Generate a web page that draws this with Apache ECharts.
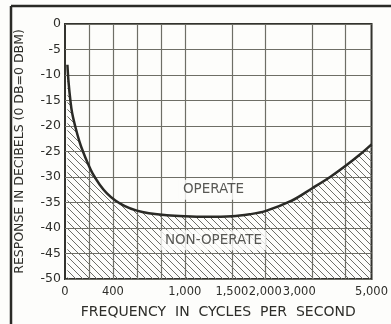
<!DOCTYPE html>
<html>
<head>
<meta charset="utf-8">
<script src="https://cdn.jsdelivr.net/npm/echarts@6/dist/echarts.min.js"></script>
<style>
html,body{margin:0;padding:0;background:#fdfdfb;}
#c{width:391px;height:324px;}
</style>
</head>
<body>
<div id="c"></div>
<script>
// ---- data ----
const FREQ = [20, 30, 45, 60, 90, 120, 150, 190, 230, 290, 350, 420, 500, 600, 700, 850, 1000, 1200, 1500, 1750, 2000, 2500, 3000, 3500, 4000, 4500, 5000];
const DB   = [-8, -11.5, -15, -17.5, -20.5, -23, -25, -27.3, -29.3, -31.5, -33.2, -34.6, -35.7, -36.6, -37.1, -37.5, -37.7, -37.8, -37.7, -37.3, -36.7, -34.7, -32.2, -30, -27.8, -25.7, -23.6];
const GRID_FREQS = [0, 200, 400, 600, 800, 1000, 1500, 2000, 3000, 4000, 5000];
const TICK_FREQS = [0, 400, 1000, 1500, 2000, 3000, 5000];
const TICK_TEXT  = ['0', '400', '1,000', '1,500', '2,000', '3,000', '5,000'];
const Y_MIN = -50, Y_MAX = 0, Y_STEP = 5;
const REGION_TEXT = ['OPERATE', 'NON-OPERATE'];
const REGION_POS = [[1280, -32.5], [1280, -42.4]];

// frequency scale of the original paper: linear to 1,000, logarithmic above
function U(f) { return f <= 1000 ? f * 0.122 : 122 + 272 * Math.log10(f / 1000); }

const FONT = 'DejaVu Sans';
const INK = '#2e2e2a';

// hatch pattern
const pc = document.createElement('canvas');
pc.width = 7; pc.height = 7;
const ctx = pc.getContext('2d');
ctx.strokeStyle = '#6e6e68';
ctx.lineWidth = 1;
ctx.beginPath();
ctx.moveTo(-1, -1); ctx.lineTo(8, 8);
ctx.moveTo(-1, 6); ctx.lineTo(1, 8);
ctx.moveTo(6, -1); ctx.lineTo(8, 1);
ctx.stroke();

const chart = echarts.init(document.getElementById('c'), null, {renderer: 'canvas'});
chart.setOption({
  backgroundColor: '#fdfdfb',
  animation: false,
  grid: {left: 65, right: 13, top: 24, bottom: 45, show: true, borderColor: '#33332e', borderWidth: 2, backgroundColor: 'transparent'},
  xAxis: {
    type: 'value', min: 0, max: U(5000),
    name: 'FREQUENCY  IN  CYCLES  PER  SECOND', nameLocation: 'middle', nameGap: 26,
    nameTextStyle: {fontFamily: FONT, fontSize: 14, color: INK},
    axisLine: {show: false}, axisTick: {show: false}, splitLine: {show: false},
    axisLabel: {
      customValues: TICK_FREQS.map(U),
      fontFamily: FONT, fontSize: 11.5, color: INK, margin: 7,
      formatter: function (v) {
        let best = 0, d = 1e9;
        TICK_FREQS.forEach(function (f, i) { const dd = Math.abs(U(f) - v); if (dd < d) { d = dd; best = i; } });
        if (TICK_TEXT[best] === '3,000') return '{s|3,000}';
        return TICK_TEXT[best];
      },
      rich: {s: {fontFamily: FONT, fontSize: 11.5, color: INK, padding: [0, 26, 0, 0]}}
    }
  },
  yAxis: {
    type: 'value', min: Y_MIN, max: Y_MAX, interval: Y_STEP,
    name: 'RESPONSE IN DECIBELS (0 DB=0 DBM)', nameLocation: 'middle', nameGap: 39, nameRotate: 90,
    nameTextStyle: {fontFamily: FONT, fontSize: 12.5, color: INK},
    axisLine: {show: false}, axisTick: {show: false},
    splitLine: {show: true, lineStyle: {color: '#6e6e66', width: 1.2}},
    axisLabel: {fontFamily: FONT, fontSize: 12.5, color: INK, margin: 4}
  },
  series: [
    {
      type: 'line',
      data: FREQ.map(function (f, i) { return [U(f), DB[i]]; }),
      showSymbol: false, smooth: 0.35,
      lineStyle: {color: '#2a2a26', width: 2.5},
      areaStyle: {origin: 'start', color: {image: pc, repeat: 'repeat'}, opacity: 1},
      z: 3,
      markLine: {
        silent: true, symbol: ['none', 'none'], label: {show: false},
        lineStyle: {color: '#6e6e66', width: 1.2, type: 'solid'},
        data: GRID_FREQS.slice(1, -1).map(function (f) { return {xAxis: U(f)}; }),
        z: 2
      }
    },
    {
      type: 'scatter', symbolSize: 0, z: 5,
      data: REGION_POS.map(function (p, i) { return {value: [U(p[0]), p[1]], name: REGION_TEXT[i]}; }),
      label: {
        show: true, position: 'inside', formatter: '{b}',
        fontFamily: FONT, fontSize: 13.5, color: INK,
        backgroundColor: '#fdfdfb', padding: [3, 4]
      }
    }
  ],
  graphic: [
    {type: 'line', shape: {x1: 11, y1: 6, x2: 391, y2: 6}, style: {stroke: '#2a2a26', lineWidth: 2.5}},
    {type: 'line', shape: {x1: 11, y1: 6, x2: 11, y2: 324}, style: {stroke: '#2a2a26', lineWidth: 2.5}}
  ]
});
</script>
</body>
</html>
